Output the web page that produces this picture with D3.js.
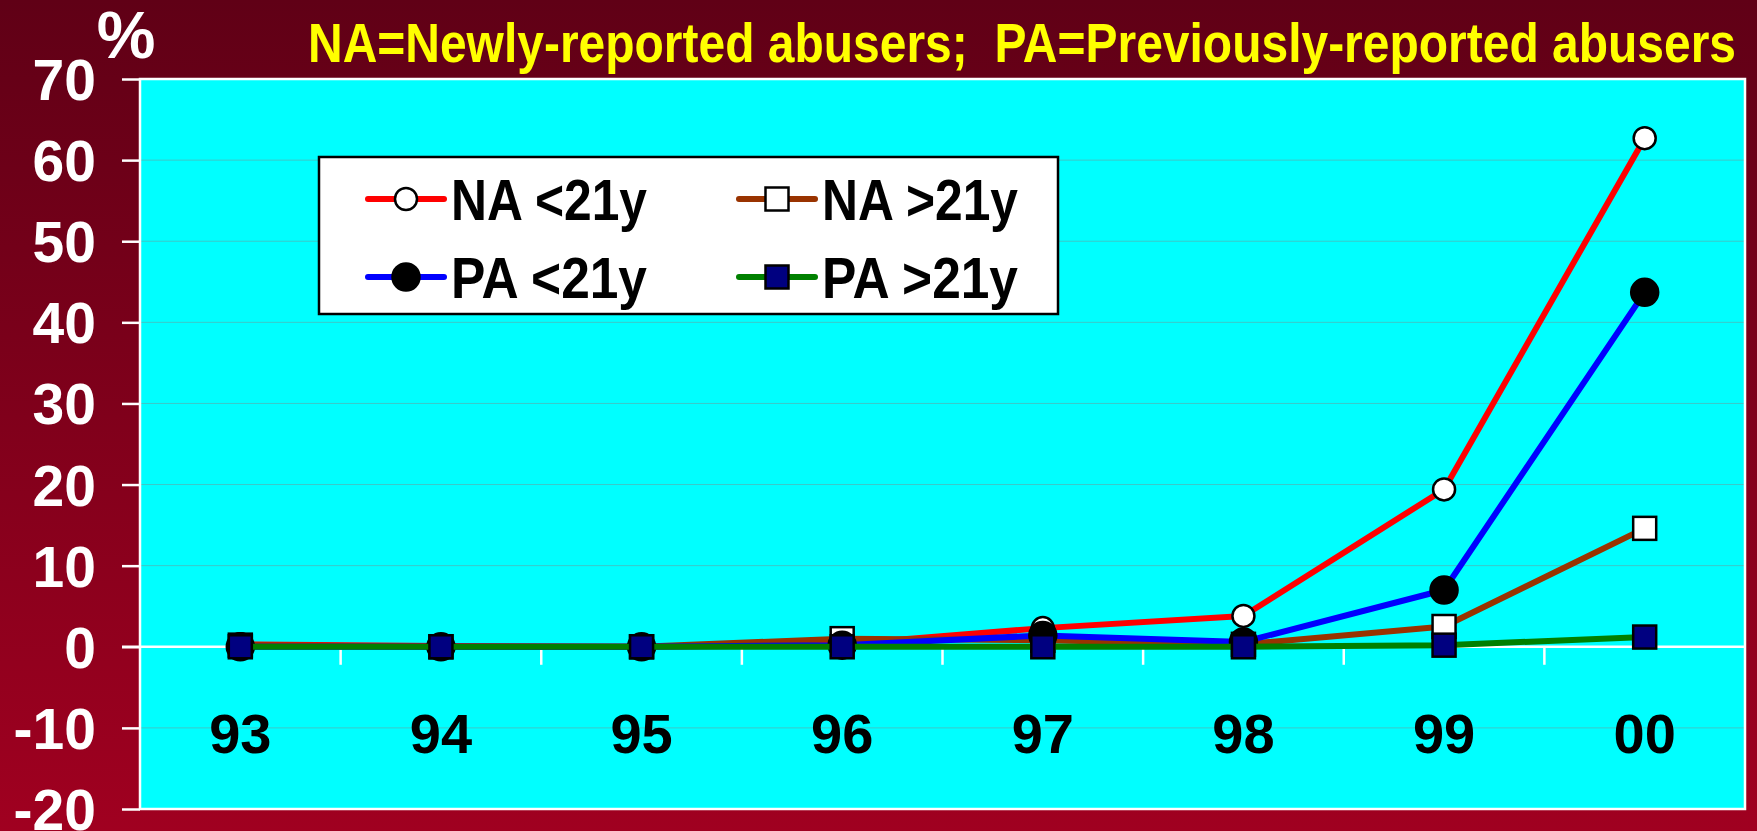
<!DOCTYPE html>
<html>
<head>
<meta charset="utf-8">
<script src="https://cdn.jsdelivr.net/npm/d3@7"></script>
<style>
  html, body { margin: 0; padding: 0; background: #7a001a; }
  svg { display: block; }
  text { font-family: "Liberation Sans", Arial, sans-serif; font-weight: bold; }
</style>
</head>
<body>
<div id="chart"></div>
<script>
// data (percent)
var years = ["93", "94", "95", "96", "97", "98", "99", "00"];
var naUnder21 = [0.3, 0.1, 0, 0.3, 2.3, 3.8, 19.4, 62.7];
var naOver21 = [0.2, 0, 0, 1.0, 0.8, 0.3, 2.5, 14.6];
var paUnder21 = [0, 0, 0, 0.2, 1.4, 0.6, 7.0, 43.7];
var paOver21 = [0, 0, 0, 0, 0, 0, 0.2, 1.2];
var yTicks = [-20, -10, 0, 10, 20, 30, 40, 50, 60, 70];
var seriesNames = ["NA <21y", "NA >21y", "PA <21y", "PA >21y"];
var titleText = "NA=Newly-reported abusers;  PA=Previously-reported abusers";

var width = 1757, height = 831;
var plot = { left: 140, right: 1745, top: 79, bottom: 809 };

var svg = d3.select("#chart")
  .append("svg")
  .attr("width", width)
  .attr("height", height);

// background gradient
var grad = svg.append("defs").append("linearGradient")
  .attr("id", "bg")
  .attr("x1", 0).attr("y1", 0).attr("x2", 0).attr("y2", 1);
grad.append("stop").attr("offset", "0%").attr("stop-color", "#600016");
grad.append("stop").attr("offset", "100%").attr("stop-color", "#a00020");

svg.append("rect")
  .attr("width", width)
  .attr("height", height)
  .attr("fill", "url(#bg)");

var x = d3.scaleBand()
  .domain(years)
  .range([plot.left, plot.right])
  .padding(0);

var y = d3.scaleLinear()
  .domain([-20, 70])
  .range([plot.bottom, plot.top]);

var cx = function(d, i) { return x(years[i]) + x.bandwidth() / 2; };

// plot area
svg.append("rect")
  .attr("x", plot.left)
  .attr("y", plot.top)
  .attr("width", plot.right - plot.left)
  .attr("height", plot.bottom - plot.top)
  .attr("fill", "#00ffff");

// gridlines
svg.selectAll(".grid")
  .data(yTicks.filter(function(t) { return t != 0 && t != 70 && t != -20; }))
  .enter()
  .append("line")
  .attr("x1", plot.left)
  .attr("x2", plot.right)
  .attr("y1", function(d) { return y(d); })
  .attr("y2", function(d) { return y(d); })
  .attr("stroke", "#3cc8c8")
  .attr("stroke-width", 1);

// border
svg.append("rect")
  .attr("x", plot.left)
  .attr("y", plot.top)
  .attr("width", plot.right - plot.left)
  .attr("height", plot.bottom - plot.top)
  .attr("fill", "none")
  .attr("stroke", "#ffffff")
  .attr("stroke-width", 2.5);

// y axis (plain hyphen for negatives, like the original)
var yAxis = d3.axisLeft(y)
  .tickValues(yTicks)
  .tickSize(18)
  .tickPadding(26)
  .tickFormat(function(d) { return String(d); });

var yG = svg.append("g")
  .attr("transform", "translate(" + plot.left + ",0)")
  .call(yAxis);
yG.select(".domain").remove();
yG.selectAll(".tick line").attr("stroke", "#ffffff").attr("stroke-width", 2.5);
yG.selectAll(".tick text")
  .attr("fill", "#ffffff")
  .attr("font-size", 57)
  .attr("font-family", "Liberation Sans, Arial, sans-serif")
  .attr("font-weight", "bold")
  .attr("dy", "0.36em");

// zero line with category ticks
svg.append("line")
  .attr("x1", plot.left - 18)
  .attr("x2", plot.right)
  .attr("y1", y(0))
  .attr("y2", y(0))
  .attr("stroke", "#ffffff")
  .attr("stroke-width", 2.5);

svg.selectAll(".xtick")
  .data(years.slice(1))
  .enter()
  .append("line")
  .attr("x1", function(d) { return x(d); })
  .attr("x2", function(d) { return x(d); })
  .attr("y1", y(0))
  .attr("y2", y(0) + 18)
  .attr("stroke", "#ffffff")
  .attr("stroke-width", 2.5);

svg.selectAll(".xlabel")
  .data(years)
  .enter()
  .append("text")
  .attr("x", function(d) { return x(d) + x.bandwidth() / 2; })
  .attr("y", 753)
  .attr("text-anchor", "middle")
  .attr("font-size", 56)
  .attr("fill", "#000000")
  .text(function(d) { return d; });

// series
var series = [
  { name: seriesNames[0], values: naUnder21, color: "#ff0000", shape: "circle", fill: "#ffffff", size: 11 },
  { name: seriesNames[1], values: naOver21, color: "#993300", shape: "square", fill: "#ffffff", size: 23 },
  { name: seriesNames[2], values: paUnder21, color: "#0000ff", shape: "circle", fill: "#000000", size: 13.5 },
  { name: seriesNames[3], values: paOver21, color: "#008000", shape: "square", fill: "#000080", size: 23 }
];

var line = d3.line()
  .x(cx)
  .y(function(d) { return y(d); });

var drawMarker = function(g, s, px, py) {
  if (s.shape == "circle") {
    g.append("circle")
      .attr("cx", px)
      .attr("cy", py)
      .attr("r", s.size)
      .attr("fill", s.fill)
      .attr("stroke", "#000000")
      .attr("stroke-width", 2.5);
  } else {
    g.append("rect")
      .attr("x", px - s.size / 2)
      .attr("y", py - s.size / 2)
      .attr("width", s.size)
      .attr("height", s.size)
      .attr("fill", s.fill)
      .attr("stroke", "#000000")
      .attr("stroke-width", 2.5);
  }
};

series.forEach(function(s) {
  var g = svg.append("g");
  g.append("path")
    .datum(s.values)
    .attr("d", line)
    .attr("fill", "none")
    .attr("stroke", s.color)
    .attr("stroke-width", 6)
    .attr("stroke-linejoin", "round");
  s.values.forEach(function(v, i) {
    drawMarker(g, s, cx(v, i), y(v));
  });
});

// legend
var legend = svg.append("g");
legend.append("rect")
  .attr("x", 319)
  .attr("y", 157)
  .attr("width", 739)
  .attr("height", 157)
  .attr("fill", "#ffffff")
  .attr("stroke", "#000000")
  .attr("stroke-width", 2.5);

var legendPos = [
  { x: 406, y: 199 }, { x: 777, y: 199 },
  { x: 406, y: 277 }, { x: 777, y: 277 }
];

series.forEach(function(s, i) {
  var p = legendPos[i];
  legend.append("line")
    .attr("x1", p.x - 38)
    .attr("x2", p.x + 38)
    .attr("y1", p.y)
    .attr("y2", p.y)
    .attr("stroke", s.color)
    .attr("stroke-width", 6)
    .attr("stroke-linecap", "round");
  drawMarker(legend, s, p.x, p.y);
  legend.append("text")
    .attr("x", p.x + 45)
    .attr("y", p.y + 21)
    .attr("font-size", 57)
    .attr("fill", "#000000")
    .attr("textLength", 196)
    .attr("lengthAdjust", "spacingAndGlyphs")
    .text(s.name);
});

// title and unit
svg.append("text")
  .attr("x", 308)
  .attr("y", 62)
  .attr("font-size", 55)
  .attr("fill", "#ffff00")
  .attr("textLength", 1428)
  .attr("lengthAdjust", "spacingAndGlyphs")
  .style("white-space", "pre")
  .text(titleText);

svg.append("text")
  .attr("x", 126)
  .attr("y", 58)
  .attr("text-anchor", "middle")
  .attr("font-size", 66)
  .attr("fill", "#ffffff")
  .text("%");
</script>
</body>
</html>
